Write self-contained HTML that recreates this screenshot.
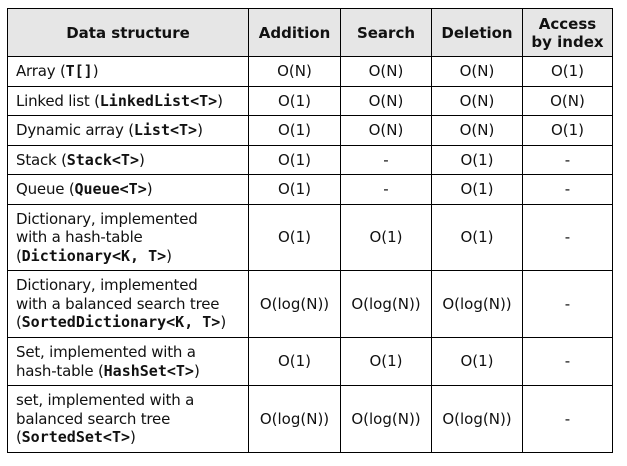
<!DOCTYPE html>
<html><head><meta charset="utf-8"><style>
body{margin:0;width:627px;height:466px;background:#fff;overflow:hidden;font-family:"DejaVu Sans","Liberation Sans",sans-serif;font-size:15px;color:#111}
table{position:absolute;left:7px;top:8px;border-collapse:collapse;table-layout:fixed}
td,th{border:1.5px solid #000;padding:0 0 0 8px;line-height:18.5px;white-space:nowrap;overflow:hidden}
th{background:#e6e6e6;font-weight:bold;font-size:15px;line-height:18px;text-align:center;padding:0}
td{text-align:center;padding:0}
td.l{text-align:left;padding-left:8px;letter-spacing:-0.2px}
b{font-family:"DejaVu Sans Mono","Liberation Mono",monospace;font-weight:bold;font-size:15px;letter-spacing:0}
</style></head><body>
<table>
<colgroup><col style="width:241px"><col style="width:92px"><col style="width:91px"><col style="width:91px"><col style="width:90px"></colgroup>
<tr style="height:48px"><th>Data structure</th><th>Addition</th><th>Search</th><th>Deletion</th><th>Access<br>by index</th></tr>
<tr style="height:30px"><td class="l">Array (<b>T[]</b>)</td><td>O(N)</td><td>O(N)</td><td>O(N)</td><td>O(1)</td></tr>
<tr style="height:29px"><td class="l">Linked list (<b>LinkedList&lt;T&gt;</b>)</td><td>O(1)</td><td>O(N)</td><td>O(N)</td><td>O(N)</td></tr>
<tr style="height:30px"><td class="l">Dynamic array (<b>List&lt;T&gt;</b>)</td><td>O(1)</td><td>O(N)</td><td>O(N)</td><td>O(1)</td></tr>
<tr style="height:29px"><td class="l">Stack (<b>Stack&lt;T&gt;</b>)</td><td>O(1)</td><td>-</td><td>O(1)</td><td>-</td></tr>
<tr style="height:30px"><td class="l">Queue (<b>Queue&lt;T&gt;</b>)</td><td>O(1)</td><td>-</td><td>O(1)</td><td>-</td></tr>
<tr style="height:66px"><td class="l">Dictionary, implemented<br>with a hash-table<br>(<b>Dictionary&lt;K, T&gt;</b>)</td><td>O(1)</td><td>O(1)</td><td>O(1)</td><td>-</td></tr>
<tr style="height:67px"><td class="l">Dictionary, implemented<br>with a balanced search tree<br>(<b>SortedDictionary&lt;K, T&gt;</b>)</td><td>O(log(N))</td><td>O(log(N))</td><td>O(log(N))</td><td>-</td></tr>
<tr style="height:48px"><td class="l">Set, implemented with a<br>hash-table (<b>HashSet&lt;T&gt;</b>)</td><td>O(1)</td><td>O(1)</td><td>O(1)</td><td>-</td></tr>
<tr style="height:67px"><td class="l">set, implemented with a<br>balanced search tree<br>(<b>SortedSet&lt;T&gt;</b>)</td><td>O(log(N))</td><td>O(log(N))</td><td>O(log(N))</td><td>-</td></tr>
</table>
</body></html>
